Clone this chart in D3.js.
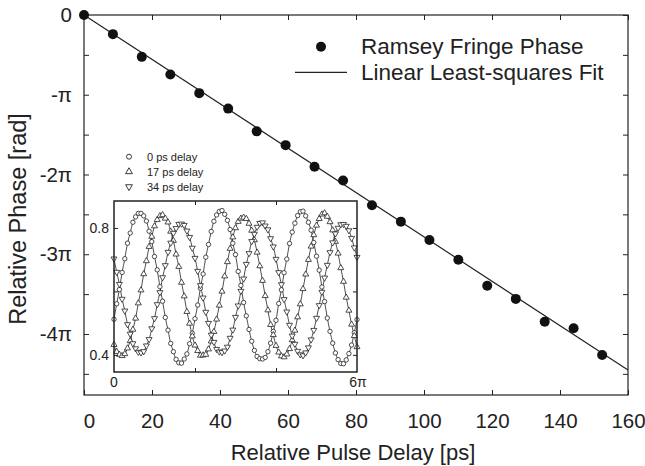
<!DOCTYPE html>
<html>
<head>
<meta charset="utf-8">
<script src="https://cdnjs.cloudflare.com/ajax/libs/d3/7.8.5/d3.min.js"></script>
<style>
  body { margin: 0; background: #fff; }
  svg { font-family: "Liberation Sans", Arial, sans-serif; }
</style>
</head>
<body>
<script>
const WIDTH = 645;
const HEIGHT = 466;
const PLOT = {left: 84, right: 628, top: 15, bottom: 395};
const INSET = {left: 114, right: 357, top: 201, bottom: 372};
const INK = "#222";

// Main plot: relative pulse delay [ps] vs relative phase (units of pi)
const delayPs = [0, 8.5, 17, 25.4, 33.9, 42.4, 50.8, 59.3, 67.8, 76.2,
                 84.7, 93.2, 101.6, 110.1, 118.6, 127.0, 135.5, 144.0, 152.4];
const phasePi = [0, -0.24, -0.525, -0.746, -0.98, -1.174, -1.459, -1.632, -1.903, -2.075,
                 -2.386, -2.591, -2.821, -3.069, -3.396, -3.56, -3.846, -3.928, -4.264];
const fitDelay = [0, 160];
const fitPhase = [0, -4.451];

const xTicks = [0, 20, 40, 60, 80, 100, 120, 140, 160];
const yTicks = [0, -0.5, -1, -1.5, -2, -2.5, -3, -3.5, -4, -4.5];

// Inset: Ramsey fringes vs scan phase (degrees, 0..6pi)
const scanDeg = [0,12,24,36,48,60,72,84,96,108,120,132,144,156,168,180,192,204,216,228,
  240,252,264,276,288,300,312,324,336,348,360,372,384,396,408,420,432,444,456,468,
  480,492,504,516,528,540,552,564,576,588,600,612,624,636,648,660,672,684,696,708,
  720,732,744,756,768,780,792,804,816,828,840,852,864,876,888,900,912,924,936,948,
  960,972,984,996,1008,1020,1032,1044,1056,1068,1080];
const fringe0 = [
  0.512,0.561,0.606,0.660,0.703,0.752,0.784,0.818,0.835,0.846,0.846,0.838,0.822,0.790,0.757,
  0.710,0.668,0.615,0.569,0.518,0.478,0.436,0.410,0.386,0.375,0.374,0.387,0.403,0.435,0.468,
  0.514,0.557,0.610,0.655,0.708,0.748,0.789,0.821,0.841,0.852,0.855,0.843,0.824,0.795,0.752,
  0.716,0.663,0.619,0.565,0.523,0.480,0.443,0.414,0.395,0.388,0.387,0.392,0.410,0.437,0.474,
  0.509,0.562,0.605,0.659,0.702,0.751,0.787,0.815,0.839,0.851,0.853,0.838,0.818,0.793,0.754,
  0.711,0.667,0.614,0.568,0.516,0.474,0.437,0.406,0.385,0.373,0.372,0.384,0.404,0.431,0.470,
  0.511];
const fringe17 = [
  0.432,0.410,0.401,0.397,0.403,0.421,0.444,0.480,0.515,0.563,0.604,0.655,0.696,0.741,0.773,
  0.806,0.826,0.838,0.841,0.830,0.818,0.789,0.760,0.717,0.678,0.628,0.585,0.536,0.499,0.459,
  0.430,0.413,0.398,0.399,0.401,0.418,0.443,0.473,0.512,0.556,0.600,0.648,0.693,0.735,0.771,
  0.800,0.820,0.830,0.833,0.829,0.814,0.792,0.762,0.723,0.680,0.634,0.586,0.541,0.495,0.463,
  0.429,0.408,0.396,0.393,0.402,0.419,0.447,0.477,0.519,0.560,0.608,0.654,0.700,0.742,0.778,
  0.808,0.829,0.843,0.847,0.836,0.819,0.793,0.757,0.720,0.674,0.631,0.581,0.540,0.496,0.460,
  0.425];
const fringe34 = [
  0.703,0.661,0.623,0.576,0.539,0.496,0.466,0.436,0.420,0.409,0.407,0.411,0.429,0.449,0.483,
  0.515,0.559,0.597,0.644,0.682,0.724,0.753,0.784,0.799,0.812,0.813,0.809,0.791,0.771,0.737,
  0.705,0.664,0.619,0.580,0.535,0.500,0.463,0.440,0.418,0.410,0.408,0.413,0.425,0.453,0.479,
  0.519,0.555,0.601,0.640,0.686,0.720,0.758,0.781,0.803,0.815,0.817,0.807,0.795,0.767,0.741,
  0.702,0.660,0.622,0.575,0.536,0.494,0.460,0.434,0.412,0.401,0.398,0.407,0.423,0.448,0.478,
  0.516,0.556,0.598,0.643,0.683,0.723,0.754,0.782,0.800,0.811,0.812,0.806,0.792,0.768,0.738,
  0.708];
const insetYTicks = [0.4, 0.6, 0.8];
const insetXTicks = [360, 720];
const insetSeries = [
  {name: "0 ps delay",  values: fringe0,  symbol: "circle"},
  {name: "17 ps delay", values: fringe17, symbol: "up"},
  {name: "34 ps delay", values: fringe34, symbol: "down"}
];

const svg = d3.select("body").append("svg")
  .attr("width", WIDTH)
  .attr("height", HEIGHT);

const xScale = d3.scaleLinear().domain([0, 160]).range([PLOT.left, PLOT.right]);
const yScale = d3.scaleLinear().domain([-4.765, 0]).range([PLOT.bottom, PLOT.top]);

function piLabel(d) {
  if (d === 0) return "0";
  if (!Number.isInteger(d)) return "";
  return (d === -1) ? "-\u03c0" : d + "\u03c0";
}

function styleAxis(g, size) {
  g.select(".domain").remove();
  g.selectAll(".tick line").attr("stroke", INK).attr("stroke-width", 1);
  g.selectAll(".tick text").attr("fill", INK).style("font-size", size + "px");
}

function drawMainAxes() {
  svg.append("g")
    .attr("transform", "translate(0," + PLOT.bottom + ")")
    .call(d3.axisBottom(xScale).tickValues(xTicks).tickSizeInner(-5).tickSizeOuter(0).tickPadding(18))
    .call(g => styleAxis(g, 20.5))
    // the "0" label sits a little right of the corner
    .call(g => g.selectAll(".tick text").filter(d => d === 0).attr("dx", 5));
  svg.append("g")
    .attr("transform", "translate(0," + PLOT.top + ")")
    .call(d3.axisTop(xScale).tickValues(xTicks).tickSizeInner(-5).tickSizeOuter(0).tickFormat(""))
    .call(g => styleAxis(g, 20));
  svg.append("g")
    .attr("transform", "translate(" + PLOT.left + ",0)")
    .call(d3.axisLeft(yScale).tickValues(yTicks).tickSizeInner(-5).tickSizeOuter(0)
      .tickPadding(12).tickFormat(piLabel))
    .call(g => styleAxis(g, 20.5));
  svg.append("g")
    .attr("transform", "translate(" + PLOT.right + ",0)")
    .call(d3.axisRight(yScale).tickValues(yTicks).tickSizeInner(-5).tickSizeOuter(0).tickFormat(""))
    .call(g => styleAxis(g, 20));

  svg.append("rect")
    .attr("x", PLOT.left).attr("y", PLOT.top)
    .attr("width", PLOT.right - PLOT.left).attr("height", PLOT.bottom - PLOT.top)
    .attr("fill", "none").attr("stroke", INK).attr("stroke-width", 1.2);

  svg.append("text")
    .attr("x", (PLOT.left + PLOT.right) / 2 - 3)
    .attr("y", 460)
    .attr("text-anchor", "middle")
    .attr("fill", INK)
    .style("font-size", "22px")
    .text("Relative Pulse Delay [ps]");

  svg.append("text")
    .attr("transform", "rotate(-90)")
    .attr("x", -219)
    .attr("y", 26)
    .attr("text-anchor", "middle")
    .attr("fill", INK)
    .style("font-size", "23.5px")
    .text("Relative Phase [rad]");
}

function drawMainData() {
  const fit = d3.line().x(d => xScale(d[0])).y(d => yScale(d[1]));
  svg.append("path")
    .attr("d", fit(d3.zip(fitDelay, fitPhase)))
    .attr("fill", "none").attr("stroke", INK).attr("stroke-width", 1.2);

  svg.append("g").selectAll("circle")
    .data(d3.zip(delayPs, phasePi))
    .enter()
    .append("circle")
      .attr("cx", d => xScale(d[0]))
      .attr("cy", d => yScale(d[1]))
      .attr("r", 5)
      .attr("fill", "#111");

  // legend
  svg.append("circle").attr("cx", 321).attr("cy", 46.7).attr("r", 5).attr("fill", "#111");
  svg.append("line").attr("x1", 295).attr("x2", 347).attr("y1", 72.3).attr("y2", 72.3)
    .attr("stroke", INK).attr("stroke-width", 1.2);
  svg.append("text").attr("x", 361).attr("y", 54).attr("fill", INK)
    .style("font-size", "22.5px").text("Ramsey Fringe Phase");
  svg.append("text").attr("x", 361).attr("y", 80).attr("fill", INK)
    .style("font-size", "22.5px").text("Linear Least-squares Fit");
}

function marker(sel, symbol, size) {
  if (symbol === "circle") {
    sel.append("circle").attr("r", size);
  } else {
    sel.append("path")
      .attr("d", d3.symbol(d3.symbolTriangle, size * size * 3.2)())
      .attr("transform", symbol === "down" ? "rotate(180)" : null);
  }
}

function drawInset() {
  const ix = d3.scaleLinear().domain([0, 1080]).range([INSET.left, INSET.right]);
  const iy = d3.scaleLinear().domain([0.346, 0.885]).range([INSET.bottom, INSET.top]);

  svg.append("rect")
    .attr("x", INSET.left).attr("y", INSET.top)
    .attr("width", INSET.right - INSET.left).attr("height", INSET.bottom - INSET.top)
    .attr("fill", "#fff");

  const line = d3.line().curve(d3.curveCatmullRom)
    .x((d, i) => ix(scanDeg[i])).y(d => iy(d));

  insetSeries.forEach(s => {
    svg.append("path")
      .attr("d", line(s.values))
      .attr("fill", "none").attr("stroke", INK).attr("stroke-width", 0.8);
  });

  insetSeries.forEach(s => {
    const g = svg.append("g");
    g.selectAll("g")
      .data(s.values)
      .enter()
      .append("g")
        .attr("transform", (d, i) => "translate(" + ix(scanDeg[i]) + "," + iy(d) + ")")
        .each(function() { marker(d3.select(this), s.symbol, 2.2); });
    g.selectAll("circle, path")
      .attr("fill", "#fff").attr("stroke", INK).attr("stroke-width", 0.8);
  });

  svg.append("g")
    .attr("transform", "translate(0," + INSET.bottom + ")")
    .call(d3.axisBottom(ix).tickValues(insetXTicks).tickSizeInner(-4).tickSizeOuter(0).tickFormat(""))
    .call(g => styleAxis(g, 14));
  svg.append("g")
    .attr("transform", "translate(0," + INSET.top + ")")
    .call(d3.axisTop(ix).tickValues(insetXTicks).tickSizeInner(-4).tickSizeOuter(0).tickFormat(""))
    .call(g => styleAxis(g, 14));
  svg.append("g")
    .attr("transform", "translate(" + INSET.left + ",0)")
    .call(d3.axisLeft(iy).tickValues(insetYTicks).tickSizeInner(-4).tickSizeOuter(0)
      .tickPadding(5).tickFormat(d => d === 0.6 ? "" : d3.format(".1f")(d)))
    .call(g => styleAxis(g, 14));
  svg.append("g")
    .attr("transform", "translate(" + INSET.right + ",0)")
    .call(d3.axisRight(iy).tickValues(insetYTicks).tickSizeInner(-4).tickSizeOuter(0).tickFormat(""))
    .call(g => styleAxis(g, 14));

  svg.append("rect")
    .attr("x", INSET.left).attr("y", INSET.top)
    .attr("width", INSET.right - INSET.left).attr("height", INSET.bottom - INSET.top)
    .attr("fill", "none").attr("stroke", INK).attr("stroke-width", 1.5);

  svg.append("text").attr("x", ix(0)).attr("y", 387).attr("text-anchor", "middle")
    .attr("fill", INK).style("font-size", "14px").text("0");
  svg.append("text").attr("x", ix(1080) + 1).attr("y", 387).attr("text-anchor", "middle")
    .attr("fill", INK).style("font-size", "14px").text("6\u03c0");

  // inset legend
  insetSeries.forEach((s, i) => {
    const y = 156.7 + i * 15;
    const g = svg.append("g").attr("transform", "translate(129," + y + ")");
    marker(g, s.symbol, 2.5);
    g.selectAll("circle, path").attr("fill", "#fff").attr("stroke", INK).attr("stroke-width", 0.9);
    svg.append("text").attr("x", 147).attr("y", y + 4).attr("fill", INK)
      .style("font-size", "11px").text(s.name);
  });
}

drawMainAxes();
drawMainData();
drawInset();
</script>
</body>
</html>
